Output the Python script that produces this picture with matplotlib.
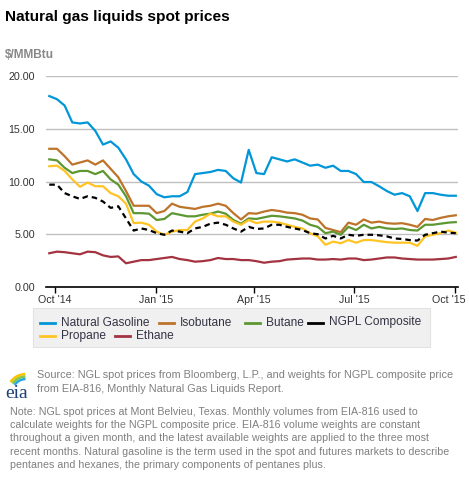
import matplotlib
matplotlib.use('Agg')
import matplotlib.pyplot as plt
import matplotlib.transforms as mtransforms
from matplotlib.lines import Line2D
from matplotlib.patches import Arc
import pandas as pd
from datetime import datetime

# weekly samples, Sep 26 2014 .. Oct 2 2015
dates = pd.date_range('2014-09-26', periods=54, freq='7D')

natural_gasoline = [18.1, 17.8, 17.2, 15.6, 15.5, 15.6, 14.8, 13.5, 13.8, 13.2,
                    12.1, 10.7, 10.0, 9.6, 8.8, 8.5, 8.6, 8.6, 9.0, 10.7,
                    10.8, 10.9, 11.1, 11.0, 10.3, 9.9, 13.0, 10.8, 10.7, 12.3,
                    12.1, 11.9, 12.1, 11.8, 11.5, 11.6, 11.3, 11.5, 11.0, 11.0,
                    10.7, 9.95, 9.95, 9.55, 9.1, 8.75, 8.9, 8.6, 7.2, 8.9,
                    8.9, 8.75, 8.65, 8.65]
isobutane = [13.1, 13.1, 12.4, 11.6, 11.8, 12.0, 11.6, 12.0, 11.2, 10.4,
             9.1, 7.7, 7.7, 7.7, 7.0, 7.2, 7.9, 7.6, 7.5, 7.4,
             7.6, 7.7, 7.9, 7.7, 7.0, 6.4, 7.0, 6.95, 7.15, 7.3,
             7.2, 7.05, 7.0, 6.85, 6.5, 6.4, 5.6, 5.4, 5.2, 6.1,
             5.9, 6.4, 6.1, 6.2, 6.05, 6.0, 6.05, 5.9, 5.7, 6.45,
             6.35, 6.55, 6.7, 6.8]
butane = [12.1, 12.0, 11.3, 10.8, 11.0, 11.0, 10.7, 11.0, 10.2, 9.7,
          8.6, 7.0, 7.0, 6.95, 6.35, 6.45, 7.0, 6.85, 6.7, 6.7,
          6.85, 6.95, 7.15, 6.95, 6.35, 6.0, 6.5, 6.45, 6.6, 6.75,
          6.7, 6.6, 6.5, 6.3, 5.9, 5.7, 5.1, 5.25, 4.95, 5.7,
          5.4, 5.9, 5.55, 5.7, 5.55, 5.5, 5.55, 5.4, 5.35, 5.9,
          5.9, 6.0, 6.1, 6.15]
ngpl_composite = [9.7, 9.7, 8.9, 8.6, 8.35, 8.6, 8.45, 8.1, 7.5, 7.65,
                  6.5, 5.35, 5.55, 5.4, 5.1, 4.95, 5.35, 5.25, 5.1, 5.55,
                  5.7, 6.0, 6.1, 5.9, 5.55, 5.25, 5.7, 5.5, 5.55, 5.9,
                  5.9, 5.7, 5.55, 5.4, 5.1, 5.0, 4.6, 4.85, 4.6, 4.95,
                  4.85, 4.95, 4.95, 4.9, 4.8, 4.6, 4.55, 4.45, 4.4, 4.95,
                  5.1, 5.25, 5.15, 5.1]
propane = [11.45, 11.5, 11.0, 10.2, 9.5, 9.9, 9.55, 9.55, 8.9, 8.6,
           7.9, 6.05, 6.1, 5.9, 5.25, 4.95, 5.25, 5.4, 5.4, 6.2,
           6.5, 6.95, 6.7, 6.7, 6.2, 5.9, 6.35, 6.05, 6.2, 6.2,
           6.1, 5.9, 5.7, 5.55, 5.1, 4.8, 4.0, 4.3, 4.15, 4.45,
           4.2, 4.45, 4.45, 4.35, 4.25, 4.2, 4.2, 4.2, 3.9, 4.8,
           4.95, 5.1, 5.35, 5.15]
ethane = [3.2, 3.35, 3.3, 3.2, 3.1, 3.35, 3.3, 3.0, 2.85, 2.9,
          2.25, 2.4, 2.55, 2.55, 2.65, 2.75, 2.85, 2.65, 2.55, 2.4,
          2.45, 2.55, 2.75, 2.65, 2.65, 2.55, 2.55, 2.45, 2.3, 2.4,
          2.45, 2.6, 2.65, 2.7, 2.7, 2.6, 2.6, 2.65, 2.6, 2.7,
          2.7, 2.55, 2.6, 2.7, 2.8, 2.8, 2.7, 2.65, 2.6, 2.6,
          2.6, 2.65, 2.7, 2.85]

series = [
    ('Natural Gasoline', natural_gasoline, '#0096d7', '-'),
    ('Isobutane', isobutane, '#bd732a', '-'),
    ('Butane', butane, '#5d9732', '-'),
    ('Propane', propane, '#ffc424', '-'),
    ('Ethane', ethane, '#a33340', '-'),
    ('NGPL Composite', ngpl_composite, 'black', (0, (2.5, 1.8))),
]

tick_dates = [datetime(2014, 10, 1), datetime(2015, 1, 1), datetime(2015, 4, 1),
              datetime(2015, 7, 1), datetime(2015, 10, 1)]
tick_labels = ["Oct '14", "Jan '15", "Apr '15", "Jul '15", "Oct '15"]

plt.rcParams['font.family'] = ['Liberation Sans', 'DejaVu Sans']

W, H = 469, 482
fig = plt.figure(figsize=(W / 100, H / 100), dpi=100)

def fx(px):
    return px / W

def fy(py):
    return 1 - py / H

ax = fig.add_axes([fx(46), fy(287), fx(458) - fx(46), fy(76) - fy(287)])

for name, vals, col, ls in series:
    ax.plot(dates, vals, color=col, lw=1.6, linestyle=ls, solid_joinstyle='round')

ax.set_ylim(0, 20)
ax.set_yticks([0, 5, 10, 15, 20])
ax.set_yticklabels(['%.2f' % v for v in [0, 5, 10, 15, 20]])
ax.set_xlim(datetime(2014, 9, 23), datetime(2015, 10, 4))
ax.set_xticks(tick_dates)
ax.set_xticklabels(tick_labels)
ax.grid(axis='y', color='#c0c0c0', lw=1)
ax.set_axisbelow(True)
for s in ['top', 'right', 'left']:
    ax.spines[s].set_visible(False)
ax.spines['bottom'].set_color('black')
ax.spines['bottom'].set_linewidth(1.2)
ax.tick_params(axis='y', length=0, pad=8, labelsize=7.7, labelcolor='#333333')
ax.tick_params(axis='x', length=4, width=1, color='black', pad=2,
               labelsize=7.7, labelcolor='#333333')

# last label is pushed left so it stays inside the figure
last = ax.get_xticklabels()[-1]
last.set_transform(last.get_transform() +
                   mtransforms.ScaledTranslation(-6 / 100, 0, fig.dpi_scale_trans))

# titles
fig.text(fx(5), fy(17), 'Natural gas liquids spot prices', fontsize=11.1,
         fontweight='bold', color='black', va='center', ha='left')
fig.text(fx(5), fy(55), '$/MMBtu', fontsize=8.6, fontweight='bold',
         color='#888888', va='center', ha='left')

# legend box drawn by hand (flow layout)
box = plt.Rectangle((fx(33), fy(347)), fx(430) - fx(33), fy(308) - fy(347),
                    transform=fig.transFigure, facecolor='#f0f0f0',
                    edgecolor='#e2e2e2', lw=0.8)
fig.patches.append(box)
legend_items = [
    ('Natural Gasoline', '#0096d7', 40, 322.5),
    ('Isobutane', '#bd732a', 159, 322.5),
    ('Butane', '#5d9732', 245, 322.5),
    ('NGPL Composite', 'black', 308, 322.5),
    ('Propane', '#ffc424', 40, 336),
    ('Ethane', '#a33340', 115, 336),
]
for name, col, x0, y0 in legend_items:
    fig.lines.append(Line2D([fx(x0), fx(x0 + 15)], [fy(y0), fy(y0)],
                            transform=fig.transFigure, color=col, lw=2))
    fig.text(fx(x0 + 21), fy(y0), name, fontsize=8.6, color='#333344',
             va='center', ha='left')

# eia logo
lax = fig.add_axes([0, fy(401), fx(38), fy(369) - fy(401)])
lax.set_xlim(0, 38)
lax.set_ylim(0, 32)
lax.axis('off')
for r, c in [(19, '#f6c400'), (16.5, '#8cc63f'), (14, '#2aa9e0')]:
    lax.add_patch(Arc((26, 8), 2 * r, 2 * r, theta1=92, theta2=145, color=c, lw=1.8))
lax.text(17, 8, 'eia', fontsize=14, family='Liberation Serif', color='#1b3f7a',
         ha='center', va='center')

gray = '#7f7f7f'
fig.text(fx(37), fy(375), 'Source: NGL spot prices from Bloomberg, L.P., and weights for NGPL composite price',
         fontsize=7.8, color=gray, va='center', ha='left')
fig.text(fx(37), fy(389.5), 'from EIA-816, Monthly Natural Gas Liquids Report.',
         fontsize=7.8, color=gray, va='center', ha='left')

note_lines = [
    'Note: NGL spot prices at Mont Belvieu, Texas. Monthly volumes from EIA-816 used to',
    'calculate weights for the NGPL composite price. EIA-816 volume weights are constant',
    'throughout a given month, and the latest available weights are applied to the three most',
    'recent months. Natural gasoline is the term used in the spot and futures markets to describe',
    'pentanes and hexanes, the primary components of pentanes plus.',
]
for i, line in enumerate(note_lines):
    fig.text(fx(10), fy(411.7 + 13.3 * i), line, fontsize=7.7, color=gray,
             va='center', ha='left')

fig.savefig('out.png', dpi=100)
